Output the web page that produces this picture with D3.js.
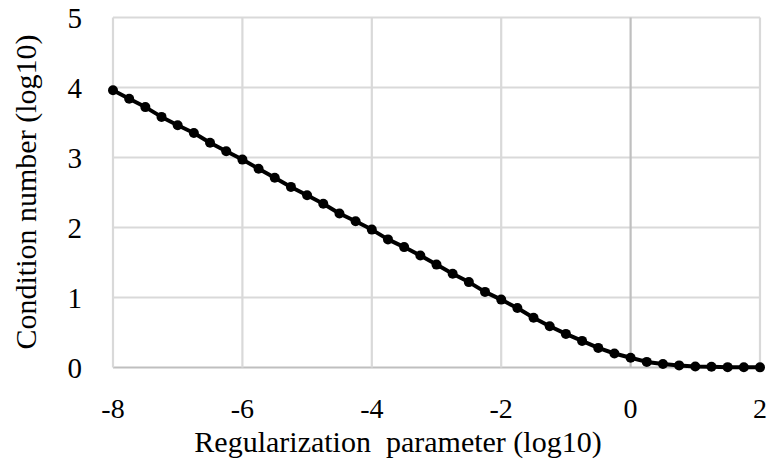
<!DOCTYPE html>
<html lang="en">
<head>
<meta charset="UTF-8">
<title>Condition number vs regularization parameter</title>
<script src="https://d3js.org/d3.v7.min.js"></script>
<style>
    body { margin: 0; background: #fff; }
    svg text { font-family: "Liberation Serif", "Times New Roman", serif; fill: #000; }
</style>
</head>
<body>
<div id="chart"></div>
<script>
    // regularization parameter (log10), step 0.25
    const lambdaLog = d3.range(41).map(i => -8 + i * 0.25);
    // condition number (log10)
    const condLog = [
        3.96, 3.84, 3.72, 3.58, 3.46, 3.35, 3.21, 3.09, 2.97,
        2.84, 2.71, 2.58, 2.46, 2.34, 2.20, 2.09, 1.97,
        1.83, 1.72, 1.60, 1.47, 1.34, 1.22, 1.08, 0.97,
        0.85, 0.71, 0.59, 0.48, 0.38, 0.28, 0.20, 0.14,
        0.08, 0.05, 0.03, 0.015, 0.01, 0.005, 0.003, 0.002
    ];
    const xTicks = [-8, -6, -4, -2, 0, 2];
    const yTicks = [0, 1, 2, 3, 4, 5];

    const W = 768, H = 462;
    const margin = {top: 17.5, right: 8, bottom: 94.5, left: 113};
    const width = W - margin.left - margin.right,
          height = H - margin.top - margin.bottom;

    const svg = d3.select("#chart").append("svg")
        .attr("width", W).attr("height", H);
    const g = svg.append("g")
        .attr("transform", `translate(${margin.left},${margin.top})`);

    const x = d3.scaleLinear().domain([-8, 2]).range([0, width]);
    const y = d3.scaleLinear().domain([0, 5]).range([height, 0]);

    // gridlines (x = 0 and y = 0 are the darker axis lines)
    g.selectAll(".hgrid").data(yTicks).enter().append("line")
        .attr("x1", 0).attr("x2", width)
        .attr("y1", d => y(d)).attr("y2", d => y(d))
        .attr("stroke", d => d === 0 ? "#bfbfbf" : "#d9d9d9")
        .attr("stroke-width", 2.2);
    g.selectAll(".vgrid").data(xTicks).enter().append("line")
        .attr("y1", 0).attr("y2", height)
        .attr("x1", d => x(d)).attr("x2", d => x(d))
        .attr("stroke", d => d === 0 ? "#bfbfbf" : "#d9d9d9")
        .attr("stroke-width", 2.2);

    // tick labels
    g.selectAll(".xlab").data(xTicks).enter().append("text")
        .attr("x", d => x(d)).attr("y", height + 50)
        .attr("text-anchor", "middle")
        .style("font-size", "28px")
        .text(d => d);
    g.selectAll(".ylab").data(yTicks).enter().append("text")
        .attr("x", -31).attr("y", d => y(d) + 10)
        .attr("text-anchor", "end")
        .style("font-size", "29px")
        .text(d => d);

    // line + markers
    const pts = lambdaLog.map((v, i) => [v, condLog[i]]);
    g.append("path").datum(pts)
        .attr("fill", "none")
        .attr("stroke", "#000")
        .attr("stroke-width", 4)
        .attr("stroke-linejoin", "round")
        .attr("d", d3.line().x(d => x(d[0])).y(d => y(d[1])));
    g.selectAll(".dot").data(pts).enter().append("circle")
        .attr("cx", d => x(d[0])).attr("cy", d => y(d[1]))
        .attr("r", 5).attr("fill", "#000");

    // axis titles
    svg.append("text")
        .attr("x", 398).attr("y", 452)
        .attr("text-anchor", "middle")
        .style("font-size", "30px")
        .style("white-space", "pre")
        .text("Regularization  parameter (log10)");
    svg.append("text")
        .attr("transform", "translate(36,192) rotate(-90)")
        .attr("text-anchor", "middle")
        .style("font-size", "30px")
        .text("Condition number (log10)");
</script>
</body>
</html>
